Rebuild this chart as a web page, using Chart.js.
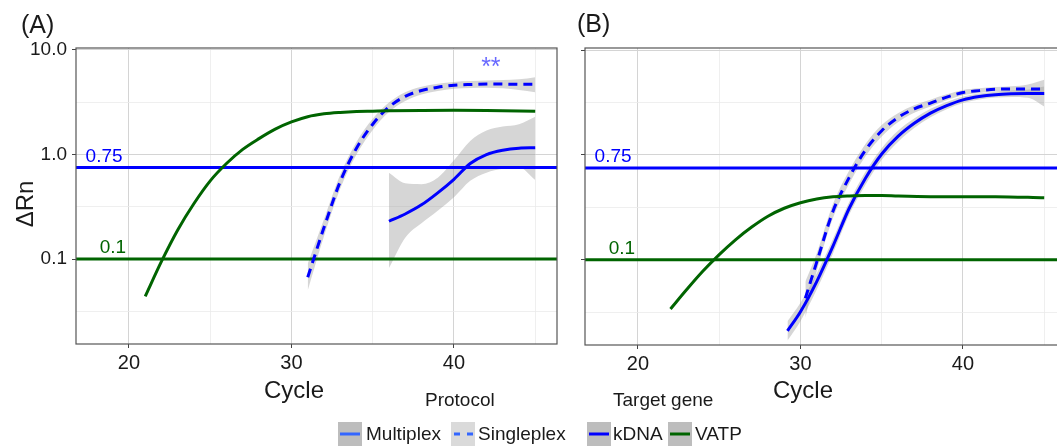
<!DOCTYPE html>
<html>
<head>
<meta charset="utf-8">
<script src="https://cdn.jsdelivr.net/npm/chart.js@4.4.1/dist/chart.umd.min.js"></script>
<style>
html, body { margin: 0; padding: 0; width: 1057px; height: 447px; overflow: hidden; background: #fff;
  font-family: "Liberation Sans", Arial, sans-serif; color: #1a1a1a; }
#wrapA { position: absolute; left: 0; top: 0; }
#wrapB { position: absolute; left: 560px; top: 0; }
.t { position: absolute; white-space: nowrap; }
.big { font-size: 24px; line-height: 24px; }
.center { transform: translate(-50%, -50%); }
.key { position: absolute; top: 422px; width: 24px; height: 24px; }
.lab { position: absolute; top: 422px; height: 24px; line-height: 24px; font-size: 19px; white-space: nowrap; }
</style>
</head>
<body>
<div id="wrapA"><canvas id="chartA" width="570" height="380"></canvas></div>
<div id="wrapB"><canvas id="chartB" width="520" height="380"></canvas></div>

<div class="t big" style="left:21px; top:12px; font-size:25px;">(A)</div>
<div class="t big" style="left:577px; top:11px; font-size:25px;">(B)</div>
<div class="t big" style="left:25px; top:204px; transform: translate(-50%, -50%) rotate(-90deg);">ΔRn</div>
<div class="t big center" style="left:294px; top:390px;">Cycle</div>
<div class="t big center" style="left:803px; top:390px;">Cycle</div>

<div class="t" style="left:425px; top:390px; font-size:19px; line-height:19px;">Protocol</div>
<div class="t" style="left:613px; top:390px; font-size:19px; line-height:19px;">Target gene</div>

<svg class="key" style="left:338px;" viewBox="0 0 24 24"><rect width="24" height="24" fill="#bdbdbd"/><line x1="2" y1="12" x2="22" y2="12" stroke="#3366ff" stroke-width="3"/></svg>
<div class="lab" style="left:366px;">Multiplex</div>
<svg class="key" style="left:451px;" viewBox="0 0 24 24"><rect width="24" height="24" fill="#dadada"/><line x1="3" y1="12" x2="23" y2="12" stroke="#3366ff" stroke-width="3" stroke-dasharray="6,7"/></svg>
<div class="lab" style="left:478px;">Singleplex</div>
<svg class="key" style="left:587px;" viewBox="0 0 24 24"><rect width="24" height="24" fill="#bdbdbd"/><line x1="2" y1="12" x2="22" y2="12" stroke="#0000ff" stroke-width="3"/></svg>
<div class="lab" style="left:613px;">kDNA</div>
<svg class="key" style="left:668px;" viewBox="0 0 24 24"><rect width="24" height="24" fill="#bdbdbd"/><line x1="2" y1="12" x2="22" y2="12" stroke="#006400" stroke-width="3"/></svg>
<div class="lab" style="left:695px;">VATP</div>

<script>
// axis ranges and ticks
var xMin = 16.74, xMax = 46.34;
var yMin = 0.0154, yMax = 10.45;
var xTicks = [20, 25, 30, 35, 40, 45];
var xLabels = ['20', '', '30', '', '40', ''];
var yTicks = [0.0316, 0.1, 0.316, 1, 3.16, 10];
var yLabels = ['', '0.1', '', '1.0', '', '10.0'];
var thresholds = [0.75, 0.1];

// Panel A
var aVatpX = [21, 22, 23, 24, 25, 26, 27, 28, 29, 30, 31, 32, 33, 34, 35, 36, 38, 40, 42, 45];
var aVatpY = [0.044, 0.095, 0.19, 0.34, 0.56, 0.82, 1.12, 1.42, 1.75, 2.05, 2.3, 2.45, 2.53, 2.58, 2.6, 2.62, 2.64, 2.65, 2.64, 2.6];

var aSingleX = [31, 32, 33, 34, 35, 36, 37, 38, 39, 40, 41, 42, 43, 44, 45];
var aSingleY = [0.067, 0.2, 0.55, 1.15, 1.95, 2.85, 3.6, 4.1, 4.4, 4.6, 4.68, 4.72, 4.72, 4.7, 4.7];
var aSingleLo = [0.05, 0.165, 0.47, 1.0, 1.72, 2.55, 3.25, 3.75, 4.05, 4.25, 4.33, 4.35, 4.3, 4.15, 3.95];
var aSingleHi = [0.09, 0.24, 0.64, 1.32, 2.2, 3.15, 3.95, 4.45, 4.75, 4.95, 5.05, 5.1, 5.15, 5.25, 5.5];

var aMultiX = [36, 37, 38, 39, 40, 41, 42, 43, 44, 45];
var aMultiY = [0.23, 0.27, 0.33, 0.43, 0.58, 0.82, 1.0, 1.1, 1.15, 1.16];
var aMultiLo = [0.082, 0.16, 0.22, 0.29, 0.39, 0.56, 0.67, 0.73, 0.75, 0.57];
var aMultiHi = [0.67, 0.53, 0.52, 0.6, 0.88, 1.35, 1.7, 1.85, 1.95, 2.3];

// Panel B
var bVatpX = [22, 23, 24, 25, 26, 27, 28, 29, 30, 31, 32, 33, 34, 35, 36, 38, 40, 42, 45];
var bVatpY = [0.034, 0.052, 0.078, 0.112, 0.155, 0.205, 0.26, 0.31, 0.35, 0.38, 0.398, 0.406, 0.41, 0.41, 0.405, 0.4, 0.4, 0.4, 0.39];

var bMultiX = [29.2, 30, 31, 32, 33, 34, 35, 36, 37, 38, 39, 40, 41, 42, 43, 44, 45];
var bMultiY = [0.021, 0.032, 0.062, 0.135, 0.31, 0.6, 1.02, 1.5, 2.0, 2.5, 2.95, 3.35, 3.6, 3.75, 3.82, 3.85, 3.85];
var bMultiLo = [0.017, 0.026, 0.052, 0.115, 0.27, 0.52, 0.9, 1.33, 1.8, 2.28, 2.72, 3.12, 3.38, 3.52, 3.57, 3.5, 2.9];
var bMultiHi = [0.026, 0.039, 0.074, 0.158, 0.355, 0.69, 1.16, 1.7, 2.22, 2.75, 3.2, 3.6, 3.85, 4.0, 4.1, 4.2, 4.5];

var bSingleX = [30.3, 31, 32, 33, 34, 35, 36, 37, 38, 39, 40, 41, 42, 43, 44, 45];
var bSingleY = [0.043, 0.095, 0.29, 0.61, 1.11, 1.7, 2.27, 2.75, 3.12, 3.55, 3.93, 4.1, 4.23, 4.25, 4.25, 4.25];
var bSingleLo = [0.028, 0.078, 0.25, 0.53, 0.97, 1.5, 2.05, 2.52, 2.9, 3.32, 3.7, 3.9, 4.02, 4.02, 3.92, 3.7];
var bSingleHi = [0.062, 0.115, 0.34, 0.71, 1.27, 1.93, 2.5, 2.98, 3.36, 3.78, 4.16, 4.32, 4.45, 4.52, 4.7, 5.2];

var BLUE = '#0000ff', GREEN = '#006400', BAND = 'rgba(153,153,153,0.4)';

function pts(xs, ys) {
    return xs.map(function(x, i) { return { x: x, y: ys[i] }; });
}

function curve(xs, ys, color, dashed) {
    return {
        data: pts(xs, ys),
        borderColor: color,
        borderWidth: 3,
        borderDash: dashed ? [9, 6] : [],
        pointRadius: 0,
        fill: false,
        cubicInterpolationMode: 'monotone',
        order: 1
    };
}

// ribbon = upper edge filled down to the next dataset (lower edge)
function band(xs, lo, hi) {
    return [
        { data: pts(xs, hi), borderWidth: 0, pointRadius: 0, backgroundColor: BAND, fill: '+1', cubicInterpolationMode: 'monotone', order: 10 },
        { data: pts(xs, lo), borderWidth: 0, pointRadius: 0, fill: false, cubicInterpolationMode: 'monotone', order: 10 }
    ];
}

function hline(v, color) {
    return { data: [{ x: xMin, y: v }, { x: xMax, y: v }], borderColor: color, borderWidth: 3, pointRadius: 0, fill: false, order: 5 };
}

// panel border, threshold labels and the ** mark
var decor = {
    id: 'decor',
    afterDatasetsDraw: function(chart, args, opts) {
        var ctx = chart.ctx, a = chart.chartArea, x = chart.scales.x, y = chart.scales.y;
        ctx.save();
        ctx.font = '19px "Liberation Sans", Arial, sans-serif';
        ctx.textBaseline = 'alphabetic';
        ctx.textAlign = 'left';
        ctx.fillStyle = BLUE;
        ctx.fillText('0.75', x.getPixelForValue(17.33), y.getPixelForValue(thresholds[0]) - 6);
        ctx.fillStyle = GREEN;
        ctx.fillText('0.1', x.getPixelForValue(18.2), y.getPixelForValue(thresholds[1]) - 6);
        if (opts.stars) {
            ctx.fillStyle = 'rgba(40,40,255,0.7)';
            ctx.textAlign = 'center';
            ctx.font = '25px "Liberation Sans", Arial, sans-serif';
            ctx.fillText('**', x.getPixelForValue(42.27), y.getPixelForValue(7.7) + 13);
        }
        ctx.strokeStyle = '#555';
        ctx.lineWidth = 1.2;
        ctx.strokeRect(a.left, a.top, a.right - a.left, a.bottom - a.top);
        ctx.restore();
    }
};

function isMajor(v) { return yLabels[yTicks.indexOf(v)] !== ''; }

function makeChart(id, datasets, opts) {
    return new Chart(document.getElementById(id), {
        type: 'line',
        data: { datasets: datasets },
        plugins: [decor],
        options: {
            responsive: false,
            animation: false,
            layout: { padding: { top: 48, right: opts.padRight, left: 0, bottom: 0 } },
            plugins: { legend: { display: false }, tooltip: { enabled: false }, decor: { stars: opts.stars } },
            scales: {
                x: {
                    type: 'linear', min: xMin, max: xMax,
                    afterBuildTicks: function(s) { s.ticks = xTicks.map(function(v) { return { value: v }; }); },
                    afterFit: function(s) { s.height = opts.xHeight; },
                    border: { display: false },
                    grid: {
                        color: function(c) { return c.tick && xLabels[xTicks.indexOf(c.tick.value)] ? '#d4d4d4' : '#ebebeb'; },
                        lineWidth: function(c) { return c.tick && xLabels[xTicks.indexOf(c.tick.value)] ? 1 : 0.8; },
                        tickColor: function(c) { return c.tick && xLabels[xTicks.indexOf(c.tick.value)] ? '#444' : 'rgba(0,0,0,0)'; },
                        tickLength: 4
                    },
                    ticks: {
                        autoSkip: false, maxRotation: 0, padding: 3, color: '#1a1a1a',
                        font: { family: '"Liberation Sans", Arial, sans-serif', size: 20 },
                        callback: function(v) { return xLabels[xTicks.indexOf(v)]; }
                    }
                },
                y: {
                    type: 'logarithmic', min: yMin, max: yMax,
                    afterBuildTicks: function(s) { s.ticks = yTicks.map(function(v) { return { value: v }; }); },
                    afterFit: function(s) { s.width = opts.yWidth; },
                    border: { display: false },
                    grid: {
                        color: function(c) { return c.tick && isMajor(c.tick.value) ? '#d4d4d4' : '#ebebeb'; },
                        lineWidth: function(c) { return c.tick && isMajor(c.tick.value) ? 1 : 0.8; },
                        tickColor: function(c) { return c.tick && isMajor(c.tick.value) ? '#444' : 'rgba(0,0,0,0)'; },
                        tickLength: 4
                    },
                    ticks: {
                        autoSkip: false, padding: 5, color: '#1a1a1a',
                        font: { family: '"Liberation Sans", Arial, sans-serif', size: 19 },
                        callback: function(v) { return opts.yLabels ? yLabels[yTicks.indexOf(v)] : ''; }
                    }
                }
            }
        }
    });
}

var dsA = [].concat(
    band(aSingleX, aSingleLo, aSingleHi),
    band(aMultiX, aMultiLo, aMultiHi),
    [hline(thresholds[0], BLUE), hline(thresholds[1], GREEN),
     curve(aVatpX, aVatpY, GREEN, false),
     curve(aSingleX, aSingleY, BLUE, true),
     curve(aMultiX, aMultiY, BLUE, false)]
);

var dsB = [].concat(
    band(bSingleX, bSingleLo, bSingleHi),
    band(bMultiX, bMultiLo, bMultiHi),
    [hline(thresholds[0], BLUE), hline(thresholds[1], GREEN),
     curve(bVatpX, bVatpY, GREEN, false),
     curve(bSingleX, bSingleY, BLUE, true),
     curve(bMultiX, bMultiY, BLUE, false)]
);

makeChart('chartA', dsA, { padRight: 13, xHeight: 36, yWidth: 76, yLabels: true, stars: true });
makeChart('chartB', dsB, { padRight: 14, xHeight: 35, yWidth: 25, yLabels: false, stars: false });
</script>
</body>
</html>
